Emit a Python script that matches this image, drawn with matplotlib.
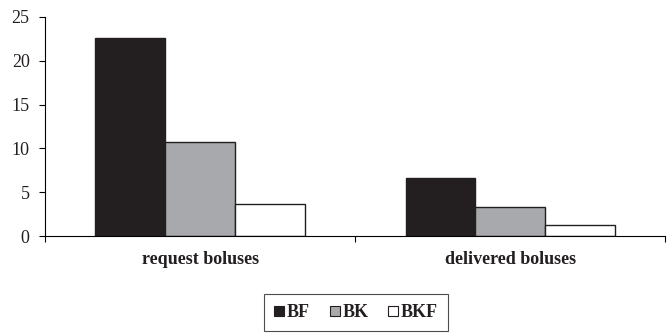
import numpy as np
import matplotlib
matplotlib.use("Agg")
import matplotlib.pyplot as plt

# bolus counts per group
categories = ["request boluses", "delivered boluses"]
series = ["BF", "BK", "BKF"]
bf = [22.6, 6.6]
bk = [10.7, 3.3]
bkf = [3.6, 1.3]
y_ticks = [0, 5, 10, 15, 20, 25]

colors = ["#231f20", "#a7a9ac", "#ffffff"]

plt.rcParams["font.family"] = ["Liberation Serif", "DejaVu Serif"]

fig = plt.figure(figsize=(6.67, 3.35), dpi=100)
ax = fig.add_axes([0.0675, 0.2955, 0.93, 0.654])

x = np.arange(len(categories)) + 0.5
width = 0.225
for i, (name, vals) in enumerate(zip(series, [bf, bk, bkf])):
    ax.bar(x + (i - 1) * width, vals, width, color=colors[i],
           edgecolor="#231f20", linewidth=1.0, label=name)

ax.set_xlim(0, 2)
ax.set_ylim(0, 25)
ax.set_yticks(y_ticks)
ax.tick_params(axis="y", labelsize=13, length=4, width=0.8, direction="out",
               pad=7, labelcolor="#231f20")

# category boundaries carry the ticks, labels sit between them
ax.set_xticks([0, 1, 2])
ax.set_xticklabels([])
ax.tick_params(axis="x", which="major", length=4, width=0.8, direction="out")
ax.set_xticks(x, minor=True)
ax.set_xticklabels(categories, minor=True, fontsize=13, fontweight="bold",
                   color="#231f20")
ax.tick_params(axis="x", which="minor", length=0, pad=11)

for s in ["top", "right"]:
    ax.spines[s].set_visible(False)
for s in ["left", "bottom"]:
    ax.spines[s].set_linewidth(0.8)

leg = fig.legend(loc="center", bbox_to_anchor=(0.534, 0.066), ncol=3,
                 frameon=True, fancybox=False, edgecolor="#231f20",
                 handlelength=0.55, handleheight=0.55, handletextpad=0.15,
                 columnspacing=1.1, borderpad=0.55,
                 prop={"weight": "bold", "size": 13})
leg.get_frame().set_linewidth(0.8)
for t in leg.get_texts():
    t.set_color("#231f20")
for h in leg.legend_handles:
    h.set_linewidth(0.8)

fig.savefig("out.png", dpi=100)
